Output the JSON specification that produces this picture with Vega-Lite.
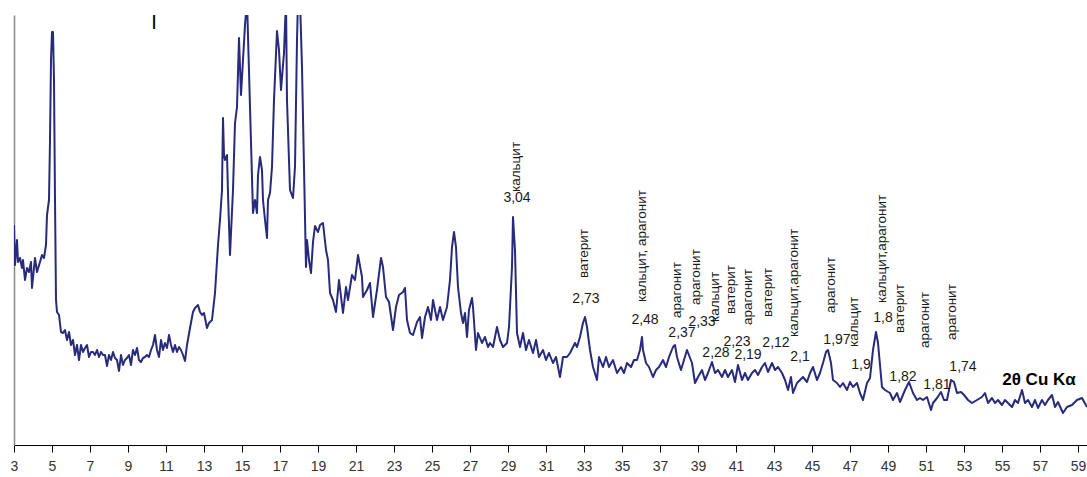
{
  "$schema": "https://vega.github.io/schema/vega-lite/v6.json",
  "width": 1073,
  "height": 430,
  "autosize": {"type": "none"},
  "padding": {"left": 14, "top": 15, "right": 0, "bottom": 32},
  "background": "white",
  "config": {"view": {"stroke": null}, "font": "Liberation Sans"},
  "datasets": {
    "xrd": [
      {"t":3.000,"i":220},{"t":3.053,"i":180},{"t":3.158,"i":205},{"t":3.211,"i":183},{"t":3.316,"i":187},{"t":3.421,"i":177},{"t":3.474,"i":185},{"t":3.579,"i":165},{"t":3.684,"i":177},{"t":3.789,"i":173},{"t":3.895,"i":183},{"t":3.947,"i":157},{"t":4.105,"i":187},{"t":4.211,"i":173},{"t":4.368,"i":183},{"t":4.474,"i":190},{"t":4.579,"i":187},{"t":4.684,"i":200},{"t":4.737,"i":230},{"t":4.842,"i":245},{"t":4.895,"i":305},{"t":4.947,"i":385},{"t":5.000,"i":413},{"t":5.053,"i":413},{"t":5.105,"i":365},{"t":5.158,"i":245},{"t":5.211,"i":145},{"t":5.263,"i":133},{"t":5.368,"i":130},{"t":5.474,"i":113},{"t":5.579,"i":112},{"t":5.684,"i":115},{"t":5.789,"i":105},{"t":5.895,"i":113},{"t":6.000,"i":100},{"t":6.105,"i":105},{"t":6.211,"i":90},{"t":6.316,"i":100},{"t":6.421,"i":85},{"t":6.526,"i":100},{"t":6.632,"i":93},{"t":6.737,"i":97},{"t":6.842,"i":100},{"t":6.947,"i":88},{"t":7.053,"i":93},{"t":7.158,"i":93},{"t":7.263,"i":90},{"t":7.368,"i":95},{"t":7.474,"i":88},{"t":7.579,"i":93},{"t":7.684,"i":90},{"t":7.789,"i":90},{"t":7.895,"i":79},{"t":8.000,"i":90},{"t":8.105,"i":85},{"t":8.211,"i":93},{"t":8.316,"i":87},{"t":8.421,"i":85},{"t":8.526,"i":74},{"t":8.632,"i":90},{"t":8.737,"i":80},{"t":8.842,"i":85},{"t":8.947,"i":87},{"t":9.053,"i":90},{"t":9.158,"i":80},{"t":9.263,"i":95},{"t":9.368,"i":90},{"t":9.474,"i":97},{"t":9.579,"i":85},{"t":9.684,"i":83},{"t":9.789,"i":87},{"t":9.895,"i":88},{"t":10.000,"i":90},{"t":10.105,"i":88},{"t":10.211,"i":95},{"t":10.316,"i":100},{"t":10.421,"i":110},{"t":10.526,"i":95},{"t":10.632,"i":88},{"t":10.737,"i":105},{"t":10.842,"i":95},{"t":10.947,"i":102},{"t":11.053,"i":97},{"t":11.158,"i":110},{"t":11.263,"i":100},{"t":11.368,"i":93},{"t":11.474,"i":100},{"t":11.579,"i":93},{"t":11.684,"i":98},{"t":11.789,"i":95},{"t":11.895,"i":90},{"t":12.000,"i":84},{"t":12.105,"i":100},{"t":12.263,"i":117},{"t":12.421,"i":133},{"t":12.526,"i":137},{"t":12.684,"i":140},{"t":12.789,"i":133},{"t":12.895,"i":130},{"t":13.000,"i":132},{"t":13.158,"i":117},{"t":13.263,"i":122},{"t":13.421,"i":125},{"t":13.579,"i":152},{"t":13.737,"i":200},{"t":13.842,"i":225},{"t":13.947,"i":255},{"t":14.000,"i":327},{"t":14.053,"i":290},{"t":14.105,"i":285},{"t":14.211,"i":290},{"t":14.263,"i":252},{"t":14.368,"i":190},{"t":14.526,"i":255},{"t":14.632,"i":322},{"t":14.737,"i":338},{"t":14.842,"i":407},{"t":14.947,"i":350},{"t":15.053,"i":385},{"t":15.158,"i":420},{"t":15.263,"i":445},{"t":15.421,"i":338},{"t":15.579,"i":232},{"t":15.684,"i":245},{"t":15.789,"i":232},{"t":15.842,"i":270},{"t":15.947,"i":288},{"t":16.053,"i":275},{"t":16.105,"i":245},{"t":16.211,"i":225},{"t":16.316,"i":207},{"t":16.368,"i":245},{"t":16.474,"i":252},{"t":16.579,"i":278},{"t":16.684,"i":345},{"t":16.842,"i":414},{"t":16.947,"i":395},{"t":17.053,"i":355},{"t":17.158,"i":380},{"t":17.211,"i":392},{"t":17.316,"i":445},{"t":17.368,"i":345},{"t":17.526,"i":255},{"t":17.684,"i":247},{"t":17.789,"i":278},{"t":17.895,"i":405},{"t":17.947,"i":445},{"t":18.053,"i":445},{"t":18.158,"i":378},{"t":18.263,"i":278},{"t":18.368,"i":178},{"t":18.421,"i":205},{"t":18.526,"i":185},{"t":18.632,"i":172},{"t":18.737,"i":203},{"t":18.842,"i":219},{"t":19.000,"i":213},{"t":19.105,"i":220},{"t":19.263,"i":222},{"t":19.421,"i":195},{"t":19.526,"i":185},{"t":19.632,"i":152},{"t":19.789,"i":145},{"t":19.947,"i":133},{"t":20.105,"i":165},{"t":20.316,"i":132},{"t":20.474,"i":158},{"t":20.579,"i":145},{"t":20.789,"i":170},{"t":20.947,"i":165},{"t":21.105,"i":190},{"t":21.316,"i":168},{"t":21.368,"i":148},{"t":21.579,"i":155},{"t":21.737,"i":162},{"t":21.895,"i":128},{"t":22.105,"i":155},{"t":22.316,"i":187},{"t":22.421,"i":178},{"t":22.579,"i":148},{"t":22.737,"i":143},{"t":22.947,"i":115},{"t":23.105,"i":138},{"t":23.263,"i":150},{"t":23.474,"i":153},{"t":23.579,"i":157},{"t":23.684,"i":125},{"t":23.842,"i":112},{"t":24.000,"i":110},{"t":24.211,"i":123},{"t":24.368,"i":128},{"t":24.474,"i":107},{"t":24.632,"i":128},{"t":24.789,"i":138},{"t":24.947,"i":125},{"t":25.053,"i":145},{"t":25.263,"i":125},{"t":25.421,"i":138},{"t":25.579,"i":125},{"t":25.789,"i":138},{"t":25.947,"i":165},{"t":26.053,"i":198},{"t":26.158,"i":213},{"t":26.263,"i":198},{"t":26.368,"i":158},{"t":26.526,"i":132},{"t":26.632,"i":122},{"t":26.737,"i":132},{"t":26.842,"i":108},{"t":26.947,"i":135},{"t":27.105,"i":147},{"t":27.158,"i":138},{"t":27.316,"i":95},{"t":27.421,"i":112},{"t":27.632,"i":102},{"t":27.789,"i":108},{"t":27.947,"i":98},{"t":28.053,"i":102},{"t":28.211,"i":98},{"t":28.421,"i":118},{"t":28.579,"i":105},{"t":28.737,"i":98},{"t":28.947,"i":102},{"t":29.053,"i":118},{"t":29.211,"i":178},{"t":29.263,"i":228},{"t":29.368,"i":195},{"t":29.474,"i":112},{"t":29.632,"i":98},{"t":29.789,"i":112},{"t":29.947,"i":95},{"t":30.105,"i":105},{"t":30.316,"i":92},{"t":30.474,"i":105},{"t":30.632,"i":88},{"t":30.842,"i":95},{"t":31.000,"i":85},{"t":31.158,"i":92},{"t":31.368,"i":82},{"t":31.526,"i":88},{"t":31.737,"i":68},{"t":31.895,"i":88},{"t":32.105,"i":88},{"t":32.263,"i":92},{"t":32.526,"i":102},{"t":32.632,"i":98},{"t":32.789,"i":108},{"t":32.947,"i":122},{"t":33.053,"i":128},{"t":33.158,"i":118},{"t":33.316,"i":95},{"t":33.474,"i":78},{"t":33.684,"i":65},{"t":33.789,"i":88},{"t":34.000,"i":78},{"t":34.158,"i":88},{"t":34.316,"i":78},{"t":34.526,"i":85},{"t":34.737,"i":72},{"t":34.947,"i":78},{"t":35.105,"i":72},{"t":35.263,"i":82},{"t":35.474,"i":78},{"t":35.632,"i":85},{"t":35.789,"i":85},{"t":35.947,"i":95},{"t":36.053,"i":108},{"t":36.105,"i":95},{"t":36.263,"i":82},{"t":36.421,"i":78},{"t":36.632,"i":68},{"t":36.789,"i":75},{"t":36.947,"i":78},{"t":37.158,"i":85},{"t":37.316,"i":78},{"t":37.474,"i":88},{"t":37.684,"i":98},{"t":37.789,"i":100},{"t":37.895,"i":88},{"t":38.105,"i":75},{"t":38.263,"i":85},{"t":38.421,"i":95},{"t":38.684,"i":82},{"t":38.842,"i":62},{"t":39.000,"i":68},{"t":39.211,"i":75},{"t":39.368,"i":65},{"t":39.526,"i":72},{"t":39.737,"i":83},{"t":39.895,"i":72},{"t":40.053,"i":75},{"t":40.263,"i":68},{"t":40.421,"i":75},{"t":40.579,"i":68},{"t":40.789,"i":75},{"t":40.947,"i":63},{"t":41.105,"i":80},{"t":41.316,"i":65},{"t":41.474,"i":72},{"t":41.632,"i":65},{"t":41.842,"i":72},{"t":42.000,"i":75},{"t":42.158,"i":70},{"t":42.368,"i":78},{"t":42.526,"i":82},{"t":42.684,"i":73},{"t":42.895,"i":82},{"t":43.053,"i":75},{"t":43.211,"i":78},{"t":43.421,"i":72},{"t":43.579,"i":65},{"t":43.737,"i":55},{"t":43.895,"i":68},{"t":44.000,"i":52},{"t":44.211,"i":62},{"t":44.368,"i":65},{"t":44.526,"i":68},{"t":44.737,"i":63},{"t":44.895,"i":72},{"t":45.053,"i":78},{"t":45.263,"i":65},{"t":45.421,"i":72},{"t":45.579,"i":82},{"t":45.737,"i":93},{"t":45.842,"i":95},{"t":46.000,"i":82},{"t":46.105,"i":65},{"t":46.316,"i":62},{"t":46.474,"i":58},{"t":46.632,"i":62},{"t":46.842,"i":55},{"t":47.000,"i":63},{"t":47.158,"i":58},{"t":47.368,"i":62},{"t":47.526,"i":52},{"t":47.684,"i":45},{"t":47.895,"i":62},{"t":48.053,"i":67},{"t":48.211,"i":95},{"t":48.368,"i":113},{"t":48.474,"i":102},{"t":48.684,"i":58},{"t":48.842,"i":55},{"t":49.105,"i":52},{"t":49.263,"i":45},{"t":49.474,"i":52},{"t":49.632,"i":43},{"t":49.895,"i":55},{"t":50.105,"i":63},{"t":50.316,"i":52},{"t":50.526,"i":45},{"t":50.684,"i":47},{"t":50.842,"i":45},{"t":51.053,"i":48},{"t":51.263,"i":35},{"t":51.368,"i":42},{"t":51.579,"i":47},{"t":51.789,"i":53},{"t":51.947,"i":45},{"t":52.105,"i":45},{"t":52.316,"i":65},{"t":52.474,"i":63},{"t":52.632,"i":52},{"t":52.842,"i":53},{"t":53.000,"i":50},{"t":53.211,"i":45},{"t":53.421,"i":42},{"t":53.684,"i":45},{"t":53.947,"i":48},{"t":54.105,"i":52},{"t":54.263,"i":42},{"t":54.474,"i":47},{"t":54.632,"i":42},{"t":54.789,"i":45},{"t":55.000,"i":40},{"t":55.158,"i":45},{"t":55.316,"i":42},{"t":55.526,"i":38},{"t":55.684,"i":45},{"t":55.842,"i":42},{"t":56.053,"i":55},{"t":56.211,"i":42},{"t":56.368,"i":45},{"t":56.579,"i":38},{"t":56.737,"i":45},{"t":56.895,"i":37},{"t":57.105,"i":45},{"t":57.263,"i":40},{"t":57.421,"i":45},{"t":57.632,"i":50},{"t":57.789,"i":38},{"t":57.947,"i":43},{"t":58.211,"i":32},{"t":58.421,"i":38},{"t":58.684,"i":40},{"t":58.947,"i":45},{"t":59.211,"i":47},{"t":59.474,"i":38}
    ],
    "names": [
      {"t":29.421,"i":253,"label":"кальцит"},
      {"t":33.0,"i":167,"label":"ватерит"},
      {"t":36.053,"i":143,"label":"кальцит, арагонит"},
      {"t":37.895,"i":127,"label":"арагонит"},
      {"t":38.895,"i":140,"label":"арагонит"},
      {"t":39.895,"i":123,"label":"кальцит"},
      {"t":40.737,"i":131,"label":"ватерит"},
      {"t":41.632,"i":120,"label":"арагонит"},
      {"t":42.684,"i":128,"label":"ватерит"},
      {"t":44.053,"i":108,"label":"кальцит,арагонит"},
      {"t":46.0,"i":132,"label":"арагонит"},
      {"t":47.211,"i":98,"label":"кальцит"},
      {"t":48.684,"i":142,"label":"кальцит,арагонит"},
      {"t":49.632,"i":112,"label":"ватерит"},
      {"t":50.947,"i":97,"label":"арагонит"},
      {"t":52.368,"i":105,"label":"арагонит"}
    ],
    "nums": [
      {"t":29.474,"i":247,"label":"3,04"},
      {"t":33.105,"i":146,"label":"2,73"},
      {"t":36.211,"i":125,"label":"2,48"},
      {"t":38.158,"i":112,"label":"2,37"},
      {"t":39.211,"i":123,"label":"2,33"},
      {"t":39.947,"i":92,"label":"2,28"},
      {"t":41.053,"i":103,"label":"2,23"},
      {"t":41.632,"i":90,"label":"2,19"},
      {"t":43.105,"i":102,"label":"2,12"},
      {"t":44.368,"i":88,"label":"2,1"},
      {"t":46.316,"i":105,"label":"1,97"},
      {"t":47.579,"i":80,"label":"1,9"},
      {"t":48.737,"i":127,"label":"1,8"},
      {"t":49.789,"i":68,"label":"1,82"},
      {"t":51.579,"i":60,"label":"1,81"},
      {"t":52.947,"i":78,"label":"1,74"}
    ],
    "caption": [{"t":56.947,"i":65,"label":"2θ Cu Kα"}],
    "ylabel": [{"t":10.368,"i":422,"label":"I"}]
  },
  "encoding": {
    "x": {"field":"t","type":"quantitative","scale":{"domain":[3,59.474],"nice":false,"zero":false},
      "axis":{"title":null,"values":[3,5,7,9,11,13,15,17,19,21,23,25,27,29,31,33,35,37,39,41,43,45,47,49,51,53,55,57,59],
        "grid":false,"domainColor":"#000000","domainWidth":1.2,"tickColor":"#000000","tickSize":7,"tickWidth":1,
        "labelFont":"Liberation Sans","labelFontSize":14,"labelColor":"#333333","labelPadding":7,"labelFlush":false,"labelOverlap":false}},
    "y": {"field":"i","type":"quantitative","scale":{"domain":[0,430],"nice":false,"zero":false},
      "axis":{"title":null,"labels":false,"ticks":false,"grid":false,"domainColor":"#888888","domainWidth":1.5}}
  },
  "layer": [
    {"data":{"name":"xrd"},"mark":{"type":"line","color":"#282A7A","strokeWidth":2,"clip":true,"strokeJoin":"round"}},
    {"data":{"name":"names"},"mark":{"type":"text","angle":270,"align":"left","baseline":"middle","font":"Liberation Sans","fontSize":13.5,"color":"#1a1a1a"},
      "encoding":{"text":{"field":"label"}}},
    {"data":{"name":"nums"},"mark":{"type":"text","align":"center","baseline":"middle","font":"Liberation Sans","fontSize":14,"color":"#1a1a1a"},
      "encoding":{"text":{"field":"label"}}},
    {"data":{"name":"caption"},"mark":{"type":"text","align":"center","baseline":"middle","font":"Liberation Sans","fontSize":17,"fontWeight":"bold","color":"#000000"},
      "encoding":{"text":{"field":"label"}}},
    {"data":{"name":"ylabel"},"mark":{"type":"text","align":"center","baseline":"middle","font":"Liberation Sans","fontSize":20,"color":"#000000"},
      "encoding":{"text":{"field":"label"}}}
  ]
}
